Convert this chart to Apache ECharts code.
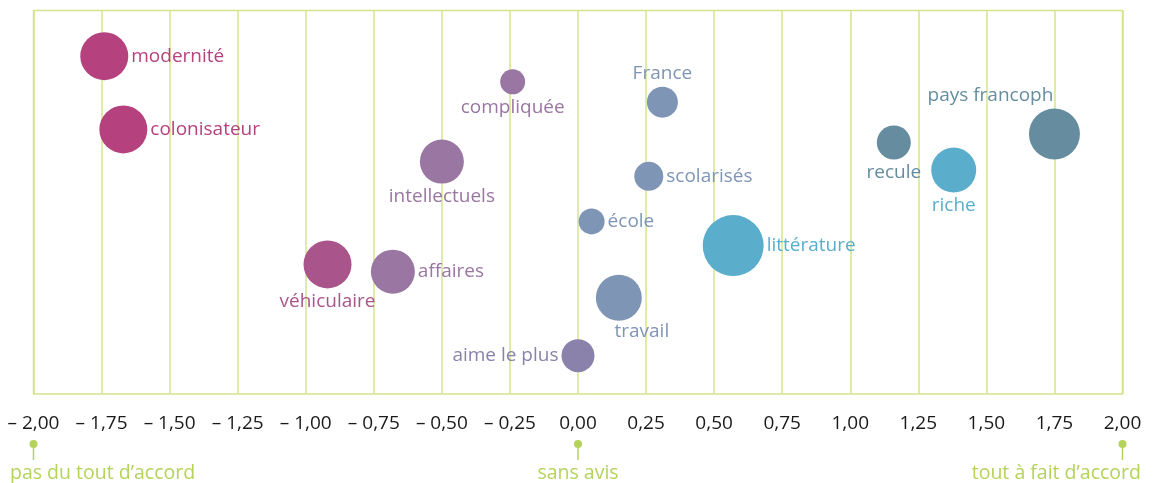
<!DOCTYPE html>
<html>
<head>
<meta charset="utf-8">
<title>Bubble chart</title>
<script src="https://cdn.jsdelivr.net/npm/echarts@6/dist/echarts.min.js"></script>
<style>
  html, body { margin: 0; padding: 0; background: #fff; }
  #chart { width: 1153px; height: 483px; }
</style>
</head>
<body>
<div id="chart"></div>
<script type="text/javascript">
// mots, position sur l'axe d'accord, hauteur (libre), poids de la bulle
var words   = ['modernité', 'colonisateur', 'compliquée', 'France', 'intellectuels', 'scolarisés', 'école', 'littérature', 'recule', 'riche', 'pays francoph', 'véhiculaire', 'affaires', 'travail', 'aime le plus'];
var scores  = [-1.74, -1.67, -0.24, 0.31, -0.50, 0.26, 0.05, 0.57, 1.16, 1.38, 1.75, -0.92, -0.68, 0.15, 0.00];
var heights = [88.1, 69.0, 81.4, 76.1, 60.6, 56.8, 45.0, 38.7, 65.6, 58.4, 67.8, 33.8, 31.9, 25.1, 10.0];
var weights = [48, 48, 25, 31, 44, 29, 26, 61, 34, 45, 51, 48, 44, 46, 33];
var groups  = ['rose', 'rose', 'mauve', 'bleu', 'mauve', 'bleu', 'bleu', 'ciel', 'petrole', 'ciel', 'petrole', 'framboise', 'mauve', 'bleu', 'lilas'];
var labelPos = ['right', 'right', 'bottom', 'top', 'bottom', 'right', 'right', 'right', 'bottom', 'bottom', 'top', 'bottom', 'right', 'bottom', 'left'];

var axisTicks = [-2, -1.75, -1.5, -1.25, -1, -0.75, -0.5, -0.25, 0, 0.25, 0.5, 0.75, 1, 1.25, 1.5, 1.75, 2];
var anchors = [
  { value: -2, text: 'pas du tout d\u2019accord', align: 'left' },
  { value: 0, text: 'sans avis', align: 'center' },
  { value: 2, text: 'tout à fait d\u2019accord', align: 'right' }
];

var colors = {
  rose: '#b5427f',
  framboise: '#a9558b',
  mauve: '#9a76a2',
  lilas: '#8a82aa',
  bleu: '#7f95b6',
  ciel: '#5aaecc',
  petrole: '#658d9f'
};
var green = '#d5e48c';
var greenText = '#b4d35a';
var font = 'Open Sans';

var chart = echarts.init(document.getElementById('chart'));

var points = words.map(function (w, i) {
  var c = colors[groups[i]];
  var lbl = { show: true, position: labelPos[i], color: c, fontSize: 19, lineHeight: 20, fontFamily: font, distance: 3 };
  if (w === 'pays francoph') lbl.offset = [-64, 0];
  if (w === 'travail') lbl.offset = [23, -2];
  return {
    name: w,
    value: [scores[i], heights[i], weights[i]],
    itemStyle: { color: c, opacity: 1 },
    label: lbl
  };
});

function fmt(v) {
  var s = Math.abs(v).toFixed(2).replace('.', ',');
  return v < 0 ? '\u2013 ' + s : s;
}

chart.setOption({
  animation: false,
  grid: {
    left: 33.5, right: 30.5, top: 10.5, bottom: 89,
    show: true, borderColor: green, borderWidth: 1.5, backgroundColor: 'transparent'
  },
  xAxis: {
    type: 'value', min: -2, max: 2, interval: 0.25,
    axisLine: { show: false },
    axisTick: { show: false },
    splitLine: { show: true, lineStyle: { color: green, width: 1.5 } },
    axisLabel: {
      margin: 20, fontSize: 19, color: '#1a1a1a', fontFamily: font,
      formatter: function (v) {
        return axisTicks.indexOf(v) >= 0 ? fmt(v) : '';
      }
    }
  },
  yAxis: {
    type: 'value', min: 0, max: 100, show: false, splitLine: { show: false }
  },
  series: [{
    type: 'scatter',
    data: points,
    symbolSize: function (v) { return v[2]; },
    label: { formatter: '{b}' },
    emphasis: { disabled: true }
  }]
});

// repères sous l'axe
var els = [];
anchors.forEach(function (a) {
  var x = chart.convertToPixel({ xAxisIndex: 0 }, a.value);
  els.push({ type: 'line', shape: { x1: x, y1: 444, x2: x, y2: 460 }, style: { stroke: greenText, lineWidth: 1.5 } });
  els.push({ type: 'circle', shape: { cx: x, cy: 444, r: 4 }, style: { fill: greenText } });
  var tx = a.align === 'left' ? 10 : (a.align === 'right' ? 1141 : x);
  els.push({
    type: 'text', x: tx, y: 473,
    style: { text: a.text, fill: greenText, font: '19.5px "' + font + '"', align: a.align, verticalAlign: 'middle' }
  });
});
chart.setOption({ graphic: els });
</script>
</body>
</html>
